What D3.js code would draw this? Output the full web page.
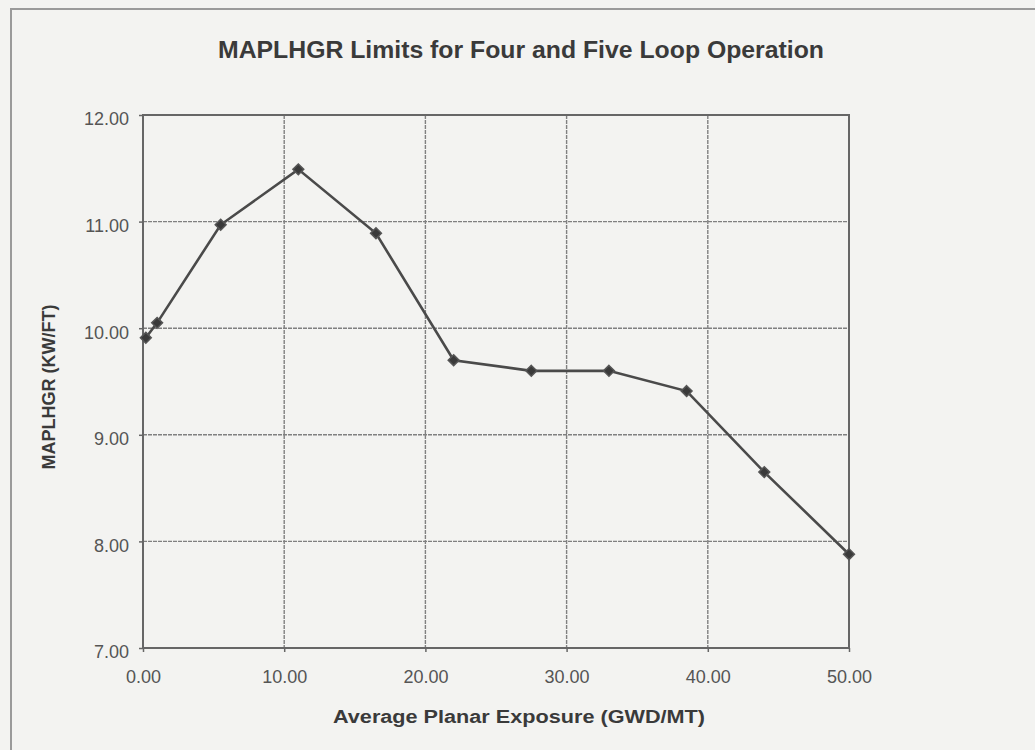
<!DOCTYPE html>
<html>
<head>
<meta charset="utf-8">
<script src="https://cdn.jsdelivr.net/npm/d3@7"></script>
<style>
  body { margin: 0; background: #f3f3f1; }
  svg { display: block; }
  text { font-family: "Liberation Sans", Arial, sans-serif; }
</style>
</head>
<body>
<svg id="chart" width="1035" height="750"></svg>
<script>
// exposure (GWD/MT) and MAPLHGR limit (KW/FT)
var exposure = [0.2, 1.0, 5.5, 11.0, 16.5, 22.0, 27.5, 33.0, 38.5, 44.0, 50.0];
var maplhgr  = [9.91, 10.05, 10.97, 11.49, 10.89, 9.70, 9.60, 9.60, 9.41, 8.65, 7.88];
var xTicks = [0, 10, 20, 30, 40, 50];
var yTicks = [7, 8, 9, 10, 11, 12];

var svg = d3.select("#chart");

// scanned page frame
svg.append("path")
  .attr("d", "M11,760 L11,9 L1040,9")
  .attr("fill", "none")
  .attr("stroke", "#9a9a9a")
  .attr("stroke-width", 2);

var pLeft = 143, pRight = 849, pTop = 115, pBottom = 648;
var x = d3.scaleLinear().domain([0, 50]).range([pLeft, pRight]);
var y = d3.scaleLinear().domain([7, 12]).range([pBottom, pTop]);

// grid
svg.append("g").selectAll("line").data(xTicks.slice(1, -1)).enter().append("line")
  .attr("x1", d => x(d)).attr("x2", d => x(d))
  .attr("y1", pTop).attr("y2", pBottom)
  .attr("stroke", "#808080").attr("stroke-width", 1.4)
  .attr("stroke-dasharray", "4,1");
svg.append("g").selectAll("line").data(yTicks.slice(1, -1)).enter().append("line")
  .attr("x1", pLeft).attr("x2", pRight)
  .attr("y1", d => y(d)).attr("y2", d => y(d))
  .attr("stroke", "#808080").attr("stroke-width", 1.4)
  .attr("stroke-dasharray", "4,1");

// plot border
svg.append("rect")
  .attr("x", pLeft).attr("y", pTop)
  .attr("width", pRight - pLeft).attr("height", pBottom - pTop)
  .attr("fill", "none")
  .attr("stroke", "#666")
  .attr("stroke-width", 2);

// axes
var xAxis = svg.append("g")
  .attr("transform", "translate(0," + pBottom + ")")
  .call(d3.axisBottom(x).tickValues(xTicks).tickFormat(d3.format(".2f")).tickSize(4).tickPadding(18));
var yAxis = svg.append("g")
  .attr("transform", "translate(" + pLeft + ",0)")
  .call(d3.axisLeft(y).tickValues(yTicks).tickFormat(d3.format(".2f")).tickSize(4).tickPadding(10));
[xAxis, yAxis].forEach(function(a) {
  a.select(".domain").remove();
  a.selectAll(".tick line").attr("stroke", "#666").attr("stroke-width", 1.5);
  a.selectAll(".tick text")
    .attr("fill", "#555")
    .style("font-size", "18px")
    .style("font-family", "'Liberation Sans', Arial, sans-serif");
});
yAxis.selectAll(".tick text").attr("dy", "0.55em");

// series
var pts = exposure.map((d, i) => [d, maplhgr[i]]);
svg.append("path")
  .datum(pts)
  .attr("fill", "none")
  .attr("stroke", "#4a4a4a")
  .attr("stroke-width", 2.6)
  .attr("d", d3.line().x(d => x(d[0])).y(d => y(d[1])));

svg.append("g").selectAll("path").data(pts).enter().append("path")
  .attr("transform", d => "translate(" + x(d[0]) + "," + y(d[1]) + ")")
  .attr("d", d3.symbol().type(d3.symbolDiamond2).size(75))
  .attr("fill", "#3a3a3a")
  .attr("stroke", "#555")
  .attr("stroke-width", 1.5);

// titles
svg.append("text")
  .attr("x", 521).attr("y", 58)
  .attr("text-anchor", "middle")
  .attr("fill", "#3a3a3a")
  .attr("textLength", 606)
  .attr("lengthAdjust", "spacingAndGlyphs")
  .style("font-size", "23px")
  .style("font-weight", "bold")
  .text("MAPLHGR Limits for Four and Five Loop Operation");

svg.append("text")
  .attr("x", 519).attr("y", 723)
  .attr("text-anchor", "middle")
  .attr("fill", "#3a3a3a")
  .attr("textLength", 372)
  .attr("lengthAdjust", "spacingAndGlyphs")
  .style("font-size", "18px")
  .style("font-weight", "bold")
  .text("Average Planar Exposure (GWD/MT)");

svg.append("text")
  .attr("transform", "translate(55,387) rotate(-90)")
  .attr("text-anchor", "middle")
  .attr("fill", "#3a3a3a")
  .style("font-size", "18px")
  .style("font-weight", "bold")
  .text("MAPLHGR (KW/FT)");
</script>
</body>
</html>
